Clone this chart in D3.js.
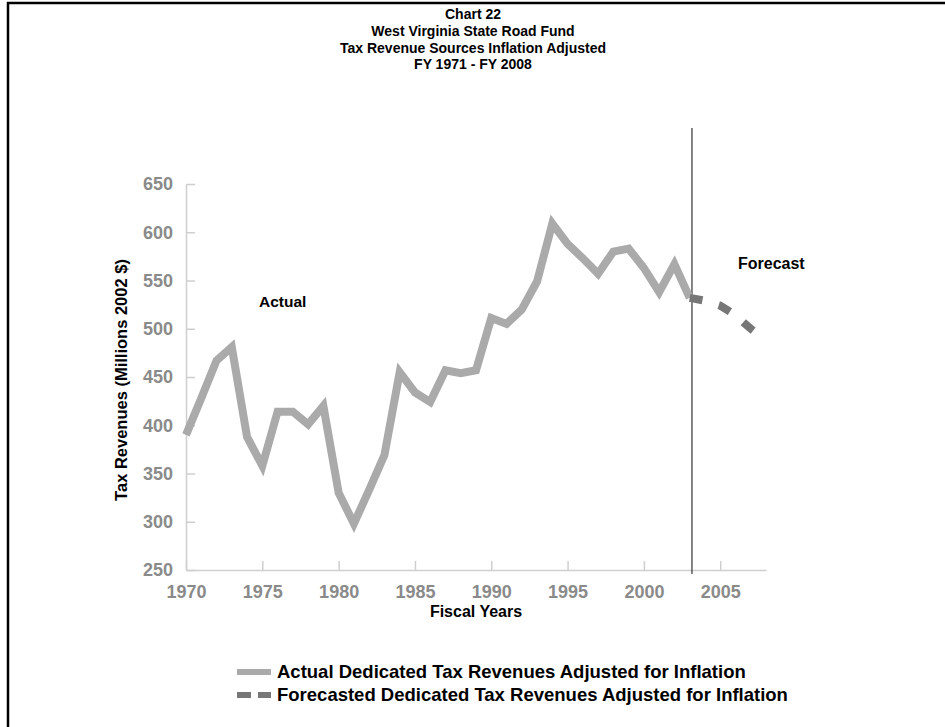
<!DOCTYPE html>
<html>
<head>
<meta charset="utf-8">
<script src="https://cdn.jsdelivr.net/npm/d3@7"></script>
<style>
  body { margin: 0; background: #fff; }
  svg { display: block; font-family: "Liberation Sans", Arial, sans-serif; }
</style>
</head>
<body>
<svg id="chart" width="945" height="727"></svg>
<script>
const titleLines = ["Chart 22", "West Virginia State Road Fund", "Tax Revenue Sources Inflation Adjusted", "FY 1971 - FY 2008"];

const actualYears = [1970, 1971, 1972, 1973, 1974, 1975, 1976, 1977, 1978, 1979,
  1980, 1981, 1982, 1983, 1984, 1985, 1986, 1987, 1988, 1989,
  1990, 1991, 1992, 1993, 1994, 1995, 1996, 1997, 1998, 1999,
  2000, 2001, 2002, 2003];
const actualValues = [390, 428, 467, 481, 388, 358, 414, 414, 401, 420,
  330, 298, 333, 369, 455, 434, 424, 457, 454, 457,
  511, 505, 520, 549, 609, 588, 573, 557, 580, 583,
  563, 538, 567, 532];

const forecastYears = [2003, 2004, 2005, 2006, 2007, 2008];
const forecastValues = [532, 529, 524, 514, 500, 488];

const xTicks = [1970, 1975, 1980, 1985, 1990, 1995, 2000, 2005];
const yTicks = [250, 300, 350, 400, 450, 500, 550, 600, 650];
const dividerYear = 2003.15;

const legendLabels = ["Actual Dedicated Tax Revenues Adjusted for Inflation",
  "Forecasted Dedicated Tax Revenues Adjusted for Inflation"];

const width = 945, height = 727;
const margin = { left: 186, right: 179, top: 184, bottom: 157 };

const svg = d3.select("#chart");

// frame (left + top only are visible)
svg.append("path")
  .attr("d", `M8,${height} V3 H${width}`)
  .attr("fill", "none")
  .attr("stroke", "#000")
  .attr("stroke-width", 2.5);

const x = d3.scaleLinear().domain([1970, 2008]).range([margin.left, width - margin.right]);
const y = d3.scaleLinear().domain([250, 650]).range([height - margin.bottom, margin.top]);

// title
svg.append("g").selectAll("text")
  .data(titleLines)
  .enter()
  .append("text")
  .attr("x", 473)
  .attr("y", (_, i) => 19 + i * 16.8)
  .attr("text-anchor", "middle")
  .style("font-size", "14px")
  .style("font-weight", "bold")
  .text(d => d);

// axes
const xAxis = svg.append("g")
  .attr("transform", `translate(0,${y(250)})`)
  .call(d3.axisBottom(x).tickValues(xTicks).tickFormat(d3.format("d")).tickSizeInner(-9).tickSizeOuter(0).tickPadding(15));

const yAxis = svg.append("g")
  .attr("transform", `translate(${x(1970)},0)`)
  .call(d3.axisLeft(y).tickValues(yTicks).tickSizeInner(-9).tickSizeOuter(0).tickPadding(13));

[xAxis, yAxis].forEach(g => {
  g.select(".domain").attr("stroke", "#cfcfcf").attr("stroke-width", 1.5);
  g.selectAll(".tick line").attr("stroke", "#cfcfcf").attr("stroke-width", 1.5);
  g.selectAll(".tick text")
    .attr("fill", "#8a8a8a")
    .style("font-size", "18px")
    .style("font-weight", "bold")
    .style("font-family", "'Liberation Sans', Arial, sans-serif");
});
yAxis.selectAll(".tick text").attr("x", -13);

// axis titles
svg.append("text")
  .attr("transform", `translate(127,${(y(250) + y(650)) / 2 + 3}) rotate(-90)`)
  .attr("text-anchor", "middle")
  .style("font-size", "16.5px")
  .style("font-weight", "bold")
  .text("Tax Revenues (Millions 2002 $)");

svg.append("text")
  .attr("x", 476)
  .attr("y", 617)
  .attr("text-anchor", "middle")
  .style("font-size", "16px")
  .style("font-weight", "bold")
  .text("Fiscal Years");

// divider between actual and forecast
svg.append("line")
  .attr("x1", x(dividerYear)).attr("x2", x(dividerYear))
  .attr("y1", 128).attr("y2", y(250) + 4)
  .attr("stroke", "#333")
  .attr("stroke-width", 1.2);

// lines
const line = d3.line().x(d => x(d[0])).y(d => y(d[1]));

svg.append("path")
  .datum(actualYears.map((yr, i) => [yr, actualValues[i]]))
  .attr("d", line)
  .attr("fill", "none")
  .attr("stroke", "#aaaaaa")
  .attr("stroke-width", 8);

svg.append("path")
  .datum(forecastYears.map((yr, i) => [yr, forecastValues[i]]))
  .attr("d", line)
  .attr("fill", "none")
  .attr("stroke", "#777777")
  .attr("stroke-width", 8)
  .attr("stroke-dasharray", "13,17");

// annotations
svg.append("text")
  .attr("x", 259).attr("y", 307)
  .style("font-size", "15.5px").style("font-weight", "bold")
  .text("Actual");

svg.append("text")
  .attr("x", 738).attr("y", 269)
  .style("font-size", "16px").style("font-weight", "bold")
  .text("Forecast");

// legend
const legend = svg.append("g");
const legendRows = [
  { label: legendLabels[0], color: "#aaaaaa", dash: null, y: 672 },
  { label: legendLabels[1], color: "#777777", dash: "14,7", y: 695 }
];
legendRows.forEach(r => {
  legend.append("line")
    .attr("x1", 237).attr("x2", 271)
    .attr("y1", r.y).attr("y2", r.y)
    .attr("stroke", r.color)
    .attr("stroke-width", 6)
    .attr("stroke-dasharray", r.dash);
  legend.append("text")
    .attr("x", 277).attr("y", r.y + 6)
    .style("font-size", "18.5px").style("font-weight", "bold")
    .text(r.label);
});
</script>
</body>
</html>
